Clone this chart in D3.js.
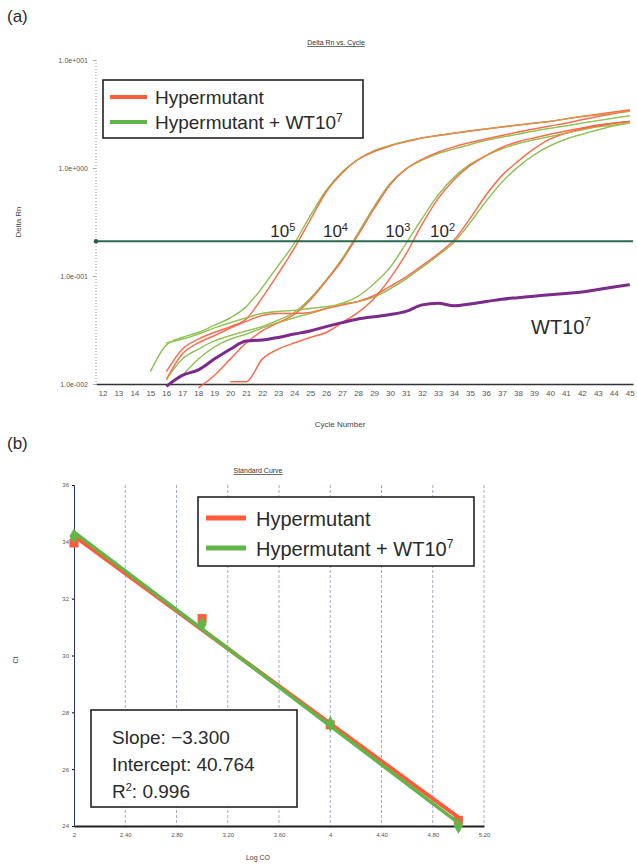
<!DOCTYPE html>
<html>
<head>
<meta charset="utf-8">
<script src="https://cdn.jsdelivr.net/npm/d3@7"></script>
<style>
    body { margin: 0; background: #fff; }
    svg { font-family: "Liberation Sans", Arial, sans-serif; }
    .tick-label { fill: #555; font-size: 7px; }
    .small-title { fill: #333; font-size: 7px; text-decoration: underline; }
    .axis-title { fill: #444; font-size: 8px; }
    .big { fill: #2a2a2a; }
</style>
</head>
<body>
<div id="chart"></div>
<script>
// ---- panel (a) data : amplification curves, Delta Rn per cycle ----
var cycleTicks = d3.range(12, 46);
var yTickValues = [0.01, 0.1, 1, 10];
var yTickLabels = ["1.0e-002", "1.0e-001", "1.0e+000", "1.0e+001"];
var threshold = 0.21;

// each array starts at the cycle given in hyperStarts / mixedStarts
var hyper1e5 = [0.013, 0.021, 0.026, 0.03, 0.034, 0.04, 0.063, 0.105, 0.18, 0.33, 0.6, 0.9, 1.2, 1.42, 1.6, 1.75, 1.9, 2.0, 2.1, 2.2, 2.3, 2.4, 2.5, 2.6, 2.7, 2.85, 3.0, 3.15, 3.3, 3.45];
var hyper1e4 = [0.0092, 0.012, 0.017, 0.024, 0.031, 0.037, 0.044, 0.06, 0.09, 0.14, 0.24, 0.42, 0.7, 0.98, 1.2, 1.4, 1.57, 1.72, 1.86, 2.0, 2.15, 2.3, 2.45, 2.6, 2.8, 3.0, 3.2, 3.4];
var hyper1e3 = [0.0105, 0.0105, 0.017, 0.021, 0.024, 0.027, 0.03, 0.037, 0.046, 0.062, 0.095, 0.16, 0.3, 0.52, 0.78, 1.05, 1.3, 1.55, 1.75, 1.9, 2.05, 2.2, 2.35, 2.5, 2.6, 2.7];
var hyper1e2 = [0.011, 0.019, 0.024, 0.028, 0.033, 0.038, 0.043, 0.045, 0.045, 0.046, 0.05, 0.054, 0.058, 0.066, 0.08, 0.098, 0.125, 0.16, 0.215, 0.34, 0.56, 0.85, 1.15, 1.5, 1.85, 2.1, 2.3, 2.45, 2.6, 2.7];
var mixed1e5 = [0.013, 0.023, 0.027, 0.03, 0.035, 0.041, 0.052, 0.078, 0.125, 0.2, 0.36, 0.62, 0.92, 1.2, 1.45, 1.62, 1.77, 1.9, 2.0, 2.1, 2.2, 2.3, 2.4, 2.5, 2.6, 2.7, 2.85, 3.0, 3.1, 3.25, 3.35];
var mixed1e4 = [0.011, 0.017, 0.021, 0.025, 0.028, 0.031, 0.034, 0.039, 0.046, 0.062, 0.092, 0.145, 0.25, 0.44, 0.72, 0.98, 1.18, 1.36, 1.5, 1.65, 1.8, 1.93, 2.06, 2.2, 2.33, 2.45, 2.6, 2.75, 2.9, 3.05];
var mixed1e3 = [0.012, 0.017, 0.022, 0.026, 0.029, 0.033, 0.037, 0.041, 0.045, 0.05, 0.056, 0.065, 0.085, 0.12, 0.2, 0.34, 0.56, 0.82, 1.08, 1.3, 1.5, 1.68, 1.82, 1.95, 2.1, 2.25, 2.4, 2.5, 2.65];
var mixed1e2 = [0.024, 0.026, 0.029, 0.033, 0.037, 0.041, 0.045, 0.047, 0.048, 0.05, 0.052, 0.055, 0.058, 0.064, 0.076, 0.094, 0.12, 0.155, 0.205, 0.31, 0.49, 0.74, 1.02, 1.32, 1.6, 1.85, 2.05, 2.25, 2.45, 2.6];
var wt1e7 = [0.0095, 0.012, 0.0135, 0.017, 0.021, 0.025, 0.0255, 0.027, 0.029, 0.031, 0.034, 0.037, 0.04, 0.042, 0.044, 0.047, 0.054, 0.056, 0.053, 0.055, 0.058, 0.061, 0.063, 0.065, 0.067, 0.069, 0.071, 0.075, 0.079, 0.083];

var hyperStarts = [16, 18, 20, 16];
var mixedStarts = [15, 16, 17, 16];
var wtStart = 16;

var dilutionLabels = ["5", "4", "3", "2"];
var dilutionLabelCycles = [22.5, 25.8, 29.7, 32.5];

// ---- panel (b) data : standard curve ----
var logCO = [2, 3, 4, 5];
var ctHyper = [33.96, 31.3, 27.56, 24.2];
var ctMixed = [34.2, 31.1, 27.6, 24.0];
var xTicksB = [2, 2.4, 2.8, 3.2, 3.6, 4, 4.4, 4.8, 5.2];
var xTickLabelsB = ["2", "2.40", "2.80", "3.20", "3.60", "4", "4.40", "4.80", "5.20"];
var yTicksB = [24, 26, 28, 30, 32, 34, 36];
var statsLines = ["Slope: \u22123.300", "Intercept: 40.764"];
var rSquared = "0.996";

var RED = "#ff5b3a";
var GREEN = "#62b548";

var svg = d3.select("#chart").append("svg")
    .attr("width", 637)
    .attr("height", 864);

// panel letters
svg.append("text").attr("x", 7).attr("y", 22).attr("class", "big")
    .style("font-size", "17px").text("(a)");
svg.append("text").attr("x", 7).attr("y", 449).attr("class", "big")
    .style("font-size", "17px").text("(b)");

function toPoints(values, start) {
    return values.map(function(v, i) { return {c: start + i, v: v}; });
}

function makeAmplificationPlot() {
    var left = 96, right = 633, top = 60, bottom = 384;

    var x = d3.scaleLinear().domain([11.6, 45.2]).range([left, right]);
    var y = d3.scaleLog().domain([0.01, 10]).range([bottom, top]);

    svg.append("clipPath").attr("id", "clipA")
        .append("rect")
        .attr("x", left).attr("y", top)
        .attr("width", right - left).attr("height", bottom - top + 8);

    // title
    svg.append("text").attr("class", "small-title")
        .attr("x", 336).attr("y", 45)
        .attr("text-anchor", "middle")
        .text("Delta Rn vs. Cycle");

    // Y axis (dotted grey)
    svg.append("line")
        .attr("x1", left).attr("x2", left)
        .attr("y1", top).attr("y2", bottom)
        .attr("stroke", "#999").attr("stroke-dasharray", "1,2");

    var yAxis = d3.axisLeft(y)
        .tickValues(yTickValues)
        .tickSize(3)
        .tickFormat(function(d, i) { return yTickLabels[i]; });
    var gy = svg.append("g")
        .attr("transform", "translate(" + left + ",0)")
        .call(yAxis);
    gy.select(".domain").remove();
    gy.selectAll("line").attr("stroke", "#aaa");
    gy.selectAll("text").attr("class", "tick-label").attr("x", -8);

    // X axis
    var xAxis = d3.axisBottom(x)
        .tickValues(cycleTicks)
        .tickSize(0)
        .tickFormat(d3.format("d"));
    var gx = svg.append("g")
        .attr("transform", "translate(0," + bottom + ")")
        .call(xAxis);
    gx.select(".domain").attr("stroke", "#333").attr("stroke-width", 1.6);
    gx.selectAll("text").attr("class", "tick-label").attr("dy", "1.1em")
        .style("font-size", "8px");

    svg.append("text").attr("class", "axis-title")
        .attr("x", 340).attr("y", 427).attr("text-anchor", "middle")
        .text("Cycle Number");
    svg.append("text").attr("class", "axis-title")
        .attr("transform", "translate(21,222) rotate(-90)")
        .attr("text-anchor", "middle")
        .text("Delta Rn");

    var line = d3.line()
        .curve(d3.curveMonotoneX)
        .x(function(d) { return x(d.c); })
        .y(function(d) { return y(d.v); });

    var plot = svg.append("g").attr("clip-path", "url(#clipA)");

    var hyper = [hyper1e5, hyper1e4, hyper1e3, hyper1e2];
    var mixed = [mixed1e5, mixed1e4, mixed1e3, mixed1e2];

    mixed.forEach(function(vals, i) {
        plot.append("path")
            .attr("d", line(toPoints(vals, mixedStarts[i])))
            .attr("fill", "none")
            .attr("stroke", GREEN)
            .attr("stroke-width", 1.3);
    });
    hyper.forEach(function(vals, i) {
        plot.append("path")
            .attr("d", line(toPoints(vals, hyperStarts[i])))
            .attr("fill", "none")
            .attr("stroke", RED)
            .attr("stroke-width", 1.5)
            .attr("stroke-opacity", 0.9);
    });
    // yellowish highlight where the two sets overlap
    mixed.forEach(function(vals, i) {
        plot.append("path")
            .attr("d", line(toPoints(vals, mixedStarts[i])))
            .attr("fill", "none")
            .attr("stroke", "#e6d84a")
            .attr("stroke-width", 0.6)
            .attr("stroke-opacity", 0.7);
    });

    plot.append("path")
        .attr("d", line(toPoints(wt1e7, wtStart)))
        .attr("fill", "none")
        .attr("stroke", "#7b2a8c")
        .attr("stroke-width", 3);

    // threshold
    svg.append("line")
        .attr("x1", left).attr("x2", right)
        .attr("y1", y(threshold)).attr("y2", y(threshold))
        .attr("stroke", "#2a6a50").attr("stroke-width", 2);
    svg.append("circle").attr("cx", left).attr("cy", y(threshold))
        .attr("r", 2.2).attr("fill", "#2a5a48");

    // dilution labels
    dilutionLabels.forEach(function(d, i) {
        var t = svg.append("text").attr("class", "big")
            .attr("x", x(dilutionLabelCycles[i]))
            .attr("y", y(threshold) - 4)
            .style("font-size", "17px");
        t.append("tspan").text("10");
        t.append("tspan").attr("dy", -6).style("font-size", "11px").text(d);
    });

    var wt = svg.append("text").attr("class", "big")
        .attr("x", 531).attr("y", 334).style("font-size", "20px");
    wt.append("tspan").text("WT10");
    wt.append("tspan").attr("dy", -8).style("font-size", "12px").text("7");

    // legend
    var lg = svg.append("g").attr("transform", "translate(103,80)");
    lg.append("rect").attr("width", 260).attr("height", 58)
        .attr("fill", "#fff").attr("stroke", "#222").attr("stroke-width", 1.6);
    lg.append("line").attr("x1", 7).attr("x2", 44).attr("y1", 17).attr("y2", 17)
        .attr("stroke", RED).attr("stroke-width", 4);
    lg.append("line").attr("x1", 7).attr("x2", 44).attr("y1", 42).attr("y2", 42)
        .attr("stroke", GREEN).attr("stroke-width", 4);
    lg.append("text").attr("class", "big").attr("x", 52).attr("y", 24)
        .style("font-size", "19px").text("Hypermutant");
    var l2 = lg.append("text").attr("class", "big").attr("x", 52).attr("y", 49)
        .style("font-size", "19px");
    l2.append("tspan").text("Hypermutant + WT10");
    l2.append("tspan").attr("dy", -7).style("font-size", "12px").text("7");
}

function fitLine(xs, ys) {
    var mx = d3.mean(xs), my = d3.mean(ys);
    var sxy = d3.sum(xs, function(v, i) { return (v - mx) * (ys[i] - my); });
    var sxx = d3.sum(xs, function(v) { return (v - mx) * (v - mx); });
    var slope = sxy / sxx;
    return {slope: slope, intercept: my - slope * mx};
}

function makeStandardCurve() {
    var left = 74, right = 484, top = 485, bottom = 826;

    var x = d3.scaleLinear().domain([2, 5.2]).range([left, right]);
    var y = d3.scaleLinear().domain([24, 36]).range([bottom, top]);

    svg.append("text").attr("class", "small-title")
        .attr("x", 258).attr("y", 473).attr("text-anchor", "middle")
        .text("Standard Curve");

    // vertical grid
    svg.append("g").selectAll("line")
        .data(xTicksB.slice(1))
        .enter().append("line")
        .attr("x1", function(d) { return x(d); })
        .attr("x2", function(d) { return x(d); })
        .attr("y1", top).attr("y2", bottom)
        .attr("stroke", "#8a92bd").attr("stroke-width", 0.8)
        .attr("stroke-dasharray", "3,2");

    var yAxis = d3.axisLeft(y).tickValues(yTicksB).tickSize(2)
        .tickFormat(d3.format("d"));
    var gy = svg.append("g").attr("transform", "translate(" + left + ",0)").call(yAxis);
    gy.select(".domain").attr("stroke", "#2d3570").attr("stroke-width", 1);
    gy.selectAll("text").attr("class", "tick-label").style("font-size", "6px");

    var xAxis = d3.axisBottom(x).tickValues(xTicksB).tickSize(0)
        .tickFormat(function(d, i) { return xTickLabelsB[i]; });
    var gx = svg.append("g").attr("transform", "translate(0," + bottom + ")").call(xAxis);
    gx.select(".domain").attr("stroke", "#222").attr("stroke-width", 1.8);
    gx.selectAll("text").attr("class", "tick-label").attr("dy", "1.4em")
        .style("font-size", "6px");

    svg.append("text").attr("class", "axis-title")
        .attr("x", 258).attr("y", 860).attr("text-anchor", "middle")
        .style("font-size", "7px").text("Log CO");
    svg.append("text").attr("class", "axis-title")
        .attr("transform", "translate(18,660) rotate(-90)")
        .attr("text-anchor", "middle").style("font-size", "7px").text("Ct");

    var fitH = fitLine(logCO, ctHyper);
    var fitM = fitLine(logCO, ctMixed);

    function fitPath(f) {
        return d3.line()
            .x(function(d) { return x(d); })
            .y(function(d) { return y(f.intercept + f.slope * d); })([2, 5]);
    }

    // markers
    svg.append("g").selectAll("rect")
        .data(logCO)
        .enter().append("rect")
        .attr("x", function(d) { return x(d) - 4.5; })
        .attr("y", function(d, i) { return y(ctHyper[i]) - 4.5; })
        .attr("width", 9).attr("height", 9)
        .attr("fill", RED);

    svg.append("path").attr("d", fitPath(fitH))
        .attr("stroke", RED).attr("stroke-width", 4).attr("fill", "none");
    svg.append("path").attr("d", fitPath(fitM))
        .attr("stroke", GREEN).attr("stroke-width", 3.5).attr("fill", "none");

    svg.append("g").selectAll("path.dia")
        .data(logCO)
        .enter().append("path")
        .attr("class", "dia")
        .attr("d", d3.symbol().type(d3.symbolDiamond).size(70))
        .attr("transform", function(d, i) {
            return "translate(" + x(d) + "," + y(ctMixed[i]) + ")";
        })
        .attr("fill", GREEN);

    // legend
    var lg = svg.append("g").attr("transform", "translate(198,497)");
    lg.append("rect").attr("width", 276).attr("height", 69)
        .attr("fill", "#fff").attr("stroke", "#222").attr("stroke-width", 1.6);
    lg.append("line").attr("x1", 8).attr("x2", 48).attr("y1", 21).attr("y2", 21)
        .attr("stroke", RED).attr("stroke-width", 5);
    lg.append("line").attr("x1", 8).attr("x2", 48).attr("y1", 51).attr("y2", 51)
        .attr("stroke", GREEN).attr("stroke-width", 5);
    lg.append("text").attr("class", "big").attr("x", 58).attr("y", 29)
        .style("font-size", "20px").text("Hypermutant");
    var l2 = lg.append("text").attr("class", "big").attr("x", 58).attr("y", 59)
        .style("font-size", "20px");
    l2.append("tspan").text("Hypermutant + WT10");
    l2.append("tspan").attr("dy", -8).style("font-size", "12px").text("7");

    // stats box
    var sb = svg.append("g").attr("transform", "translate(91,710)");
    sb.append("rect").attr("width", 206).attr("height", 97)
        .attr("fill", "#fff").attr("stroke", "#222").attr("stroke-width", 1.6);
    statsLines.forEach(function(s, i) {
        sb.append("text").attr("class", "big").attr("x", 21).attr("y", 34 + i * 27)
            .style("font-size", "19px").text(s);
    });
    var r2 = sb.append("text").attr("class", "big").attr("x", 21).attr("y", 88)
        .style("font-size", "19px");
    r2.append("tspan").text("R");
    r2.append("tspan").attr("dy", -7).style("font-size", "11px").text("2");
    r2.append("tspan").attr("dy", 7).text(": " + rSquared);
}

makeAmplificationPlot();
makeStandardCurve();
</script>
</body>
</html>
